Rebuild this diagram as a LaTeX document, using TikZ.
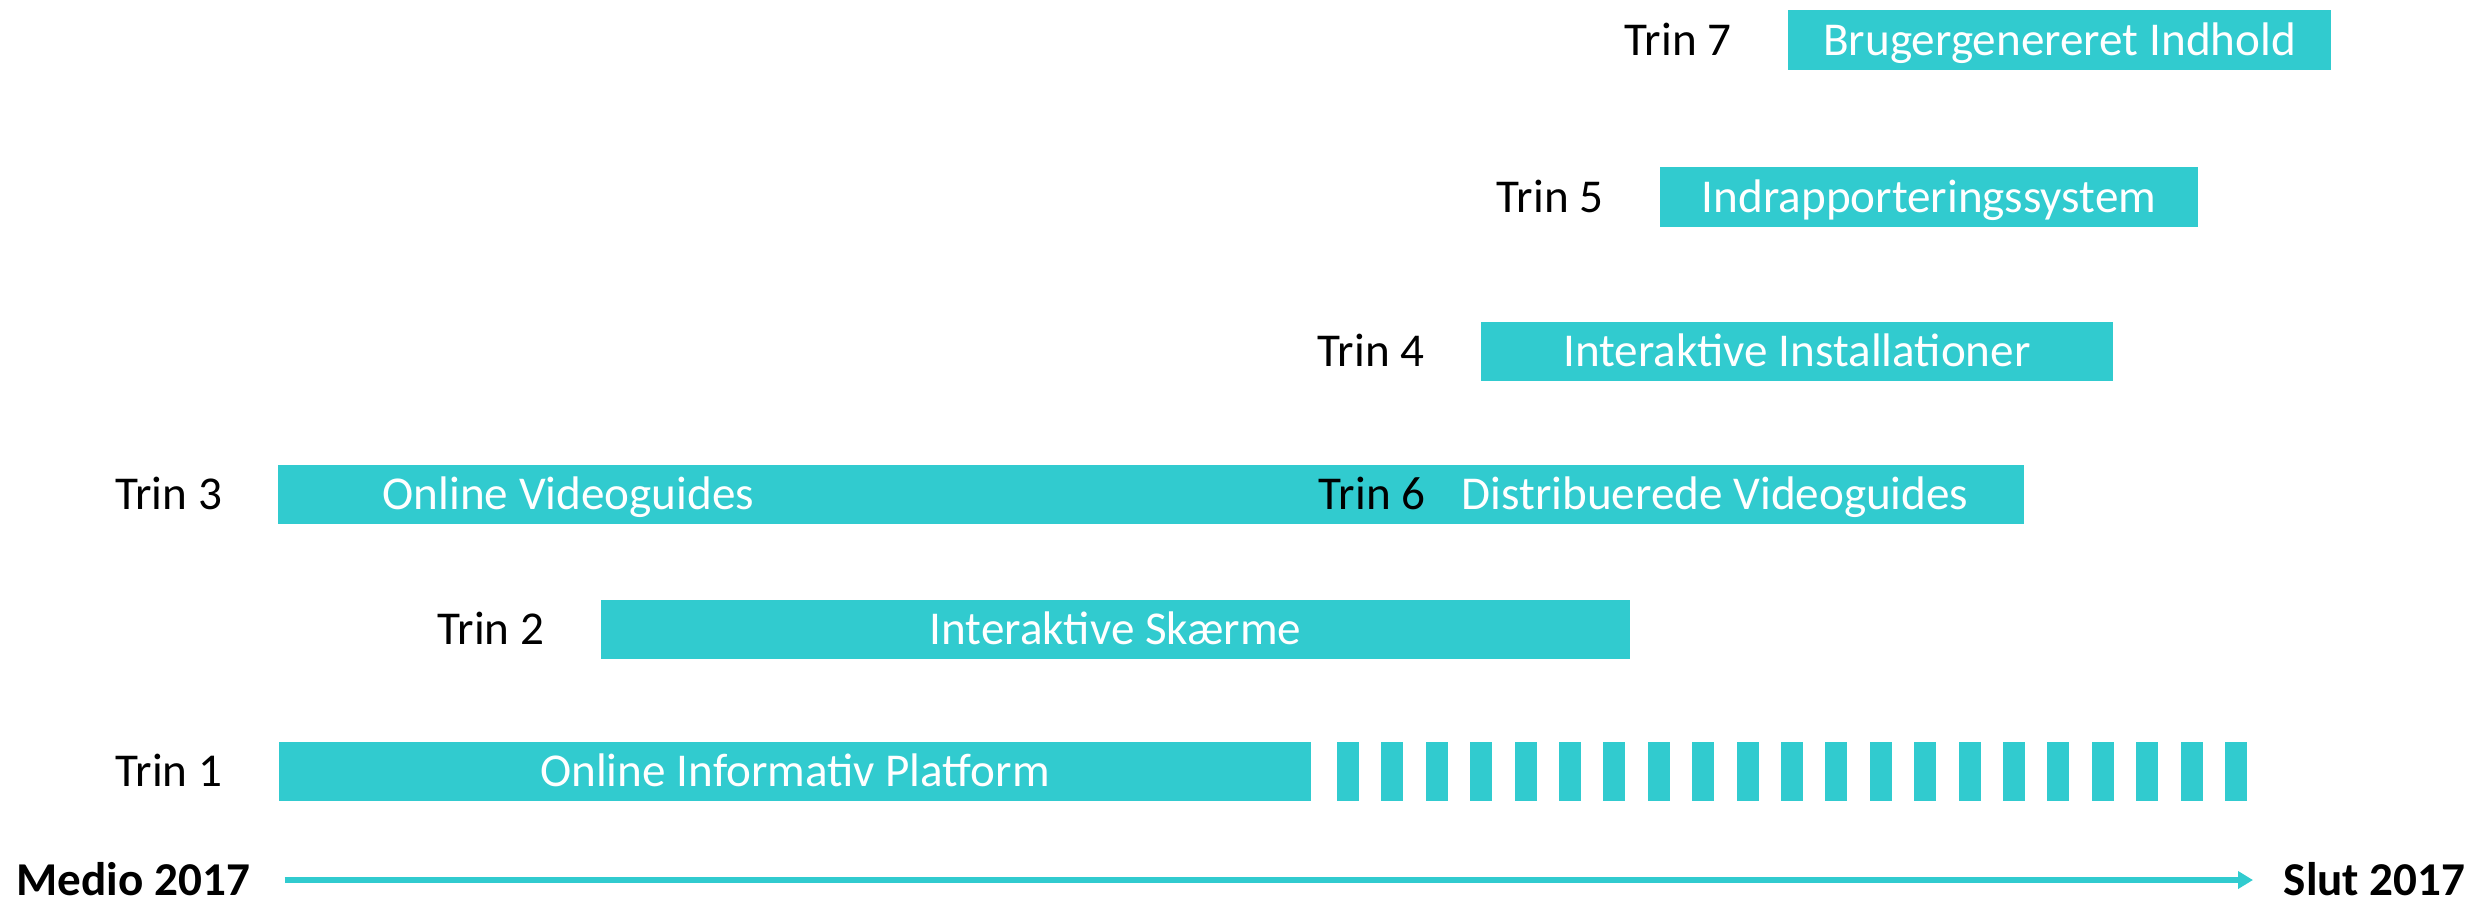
\documentclass[tikz,border=0pt]{standalone}
\usepackage{fontspec}
\setmainfont{Carlito}
\usetikzlibrary{arrows.meta, positioning}
\definecolor{turkis}{RGB}{49,203,207}

\begin{document}
\begin{tikzpicture}[
    x=0.01cm, y=-0.01cm,
    bar/.style={fill=turkis, inner sep=0pt, minimum width=#1, minimum height=0.59cm, text=white, font=\fontsize{13.4}{16}\selectfont, text height=8.6pt, text depth=0pt},
    lbl/.style={inner sep=0pt, font=\fontsize{13.4}{16}\selectfont, text height=8.6pt, text depth=0pt},
    bartxt/.style={lbl, text=white},
    ends/.style={lbl, font=\fontsize{13.4}{16}\selectfont\bfseries},
    axis/.style={-{Triangle[length=0.15cm, width=0.17cm]}, line width=0.06cm, draw=turkis}
]
    \useasboundingbox (0,0) rectangle (2488,899);

    % Bars
    \node[bar=5.43cm]  (bar7) at (2059.5,40)  {Brugergenereret Indhold};
    \node[bar=5.38cm]  (bar5) at (1929,197)   {Indrapporteringssystem};
    \node[bar=6.32cm]  (bar4) at (1797,351.5) {Interaktive Installationer};
    \node[bar=17.44cm] (bar3) at (1151,494.5) {};
    \node[bar=10.29cm] (bar2) at (1115.5,629.5) {Interaktive Skærme};
    \node[bar=10.32cm] (bar1) at (795,771.5)  {Online Informativ Platform};

    % Texts inside the long bar
    \node[bartxt, anchor=west] (vguide) at (382,494.5) {Online Videoguides};
    \node[lbl, anchor=east]    (trin6)  at (1426,494.5) {Trin 6};
    \node[bartxt, right=0.35cm of trin6] (distr) {Distribuerede Videoguides};

    % Step labels
    \node[lbl, left=0.55cm of bar7] (trin7) {Trin 7};
    \node[lbl, left=0.55cm of bar5] (trin5) {Trin 5};
    \node[lbl, left=0.55cm of bar4] (trin4) {Trin 4};
    \node[lbl, left=0.55cm of bar3] (trin3) {Trin 3};
    \node[lbl, left=0.55cm of bar2] (trin2) {Trin 2};
    \node[lbl, left=0.55cm of bar1] (trin1) {Trin 1};

    % Continuation of step 1
    \foreach \i in {0,...,20}
        \fill[turkis] ({1337+44.4*\i},742) rectangle ++(22,59);

    % Time axis
    \node[ends, anchor=west] (medio) at (16,880)   {Medio 2017};
    \node[ends, anchor=west] (slut)  at (2283,880) {Slut 2017};
    \draw[axis, shorten <=0.34cm, shorten >=0.3cm] (medio.east) -- (slut.west);
\end{tikzpicture}
\end{document}
